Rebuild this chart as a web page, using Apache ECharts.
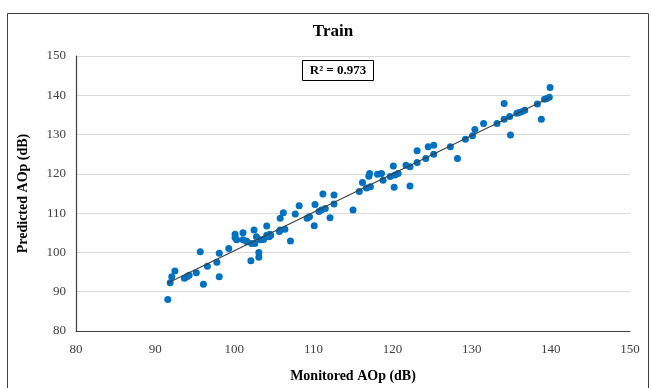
<!DOCTYPE html>
<html>
<head>
<meta charset="utf-8">
<script src="https://cdn.jsdelivr.net/npm/echarts@6/dist/echarts.min.js"></script>
<style>
html, body { margin: 0; padding: 0; background: #fff; }
#chart { width: 651px; height: 388px; }
</style>
</head>
<body>
<div id="chart"></div>
<script>
// Train set: monitored vs predicted AOp (dB)
var monitored = [91.6, 91.9, 92.1, 92.5, 93.7, 94.0, 94.3, 95.2, 95.7, 96.1, 96.6, 97.8, 98.1, 98.1, 99.3,
	100.1, 100.1, 100.3, 101.1, 101.1, 101.5, 102.1, 102.2, 102.5, 102.8, 103.1, 103.1, 103.3, 103.7, 104.1,
	104.1, 104.4, 104.6, 105.7, 105.8, 106.2, 106.4, 107.1, 107.7, 108.2, 109.2, 109.5, 110.2, 110.1, 110.7,
	111.0, 111.2, 111.5, 112.1, 112.6, 112.6, 115.0, 115.8, 116.2, 116.7, 117.0, 117.1, 117.2, 118.1, 118.6,
	118.8, 119.7, 120.1, 120.2, 120.3, 120.7, 121.7, 122.2, 122.2, 123.1, 123.1, 124.2, 124.5, 125.2, 125.2,
	127.3, 128.2, 129.2, 130.1, 130.4, 131.5, 133.2, 134.1, 134.1, 134.8, 134.9, 135.7, 136.0, 136.3, 136.7,
	138.3, 138.8, 139.2, 139.5, 139.8, 139.9, 105.8, 102.6, 104.5, 101.6];
var predicted = [88.0, 92.3, 93.8, 95.3, 93.4, 93.8, 94.2, 94.8, 100.2, 91.9, 96.5, 97.5, 93.8, 99.8, 101.0,
	104.6, 103.8, 103.2, 105.0, 103.2, 102.9, 97.9, 102.3, 105.7, 104.0, 100.0, 98.8, 103.2, 103.3, 106.7,
	104.4, 104.0, 104.4, 105.3, 108.7, 110.1, 105.9, 102.9, 109.8, 111.9, 108.7, 109.1, 112.2, 106.8, 110.4,
	110.8, 114.9, 111.2, 108.8, 114.6, 112.3, 110.8, 115.5, 117.8, 116.4, 119.4, 120.1, 116.7, 119.9, 120.1,
	118.4, 119.3, 122.0, 116.6, 119.7, 120.1, 122.2, 121.8, 116.9, 125.9, 122.9, 123.9, 126.9, 127.3, 125.0,
	126.9, 123.9, 128.8, 129.7, 131.3, 132.8, 132.8, 133.9, 137.9, 134.6, 129.9, 135.4, 135.6, 135.8, 136.2,
	137.8, 133.9, 139.0, 139.2, 139.5, 142.0, 105.7, 102.3, 104.6, 102.7];
var xTicks = [80, 90, 100, 110, 120, 130, 140, 150];
var yTicks = [80, 90, 100, 110, 120, 130, 140, 150];
var r2Text = 'R² = 0.973';

var points = monitored.map(function (x, i) { return [x, predicted[i]]; });

// least squares trend line over the data range
var n = points.length, sx = 0, sy = 0, sxx = 0, sxy = 0;
points.forEach(function (p) { sx += p[0]; sy += p[1]; sxx += p[0] * p[0]; sxy += p[0] * p[1]; });
var slope = (n * sxy - sx * sy) / (n * sxx - sx * sx);
var icpt = (sy - slope * sx) / n;
var xMin = Math.min.apply(null, monitored), xMax = Math.max.apply(null, monitored);
var trend = [[xMin, icpt + slope * xMin], [xMax, icpt + slope * xMax]];

var serif = 'Liberation Serif';
var myChart = echarts.init(document.getElementById('chart'));
var option = {
	animation: false,
	backgroundColor: '#fff',
	title: {
		text: 'Train',
		left: 328, top: 18, textAlign: 'center',
		textStyle: { fontFamily: serif, fontSize: 17, fontWeight: 'bold', color: '#000' }
	},
	grid: { left: 76, right: 21, top: 56, bottom: 57 },
	xAxis: {
		type: 'value', min: 80, max: 150, interval: 10,
		name: 'Monitored AOp (dB)', nameLocation: 'middle', nameGap: 38,
		nameTextStyle: { fontFamily: serif, fontSize: 14, fontWeight: 'bold', color: '#000' },
		axisLine: { lineStyle: { color: '#404040', width: 1.2 } },
		axisTick: { show: false },
		splitLine: { show: false },
		axisLabel: {
			fontFamily: serif, fontSize: 13, color: '#404040', margin: 12,
			formatter: function (v) { return xTicks.indexOf(v) >= 0 ? v : ''; }
		}
	},
	yAxis: {
		type: 'value', min: 80, max: 150, interval: 10,
		name: 'Predicted AOp (dB)', nameLocation: 'middle', nameGap: 46,
		nameTextStyle: { fontFamily: serif, fontSize: 14, fontWeight: 'bold', color: '#000' },
		axisLine: { show: true, lineStyle: { color: '#404040', width: 1.2 } },
		axisTick: { show: false },
		splitLine: { lineStyle: { color: '#d9d9d9', width: 1 } },
		axisLabel: {
			fontFamily: serif, fontSize: 13, color: '#404040', margin: 10,
			formatter: function (v) { return yTicks.indexOf(v) >= 0 ? v : ''; }
		}
	},
	graphic: [
		{
			type: 'rect', left: 5, top: 11, z: -1,
			shape: { width: 641, height: 380 },
			style: { fill: 'none', stroke: '#404040', lineWidth: 1 }
		},
		{
			type: 'group', left: 302, top: 60,
			children: [
				{ type: 'rect', shape: { x: 0, y: 0, width: 71, height: 20 },
					style: { fill: '#fff', stroke: '#000', lineWidth: 1 } },
				{ type: 'text', x: 35.5, y: 10,
					style: { text: r2Text, font: 'bold 13px "Liberation Serif"', fill: '#000',
						textAlign: 'center', textVerticalAlign: 'middle' } }
			]
		}
	],
	series: [
		{
			name: 'Train', type: 'scatter', data: points,
			symbolSize: 7,
			itemStyle: { color: '#0070C0', opacity: 1 },
			z: 2
		},
		{
			name: 'Linear', type: 'line', data: trend,
			symbol: 'none',
			lineStyle: { color: '#404040', width: 1.2 },
			z: 3
		}
	]
};
myChart.setOption(option);
</script>
</body>
</html>
